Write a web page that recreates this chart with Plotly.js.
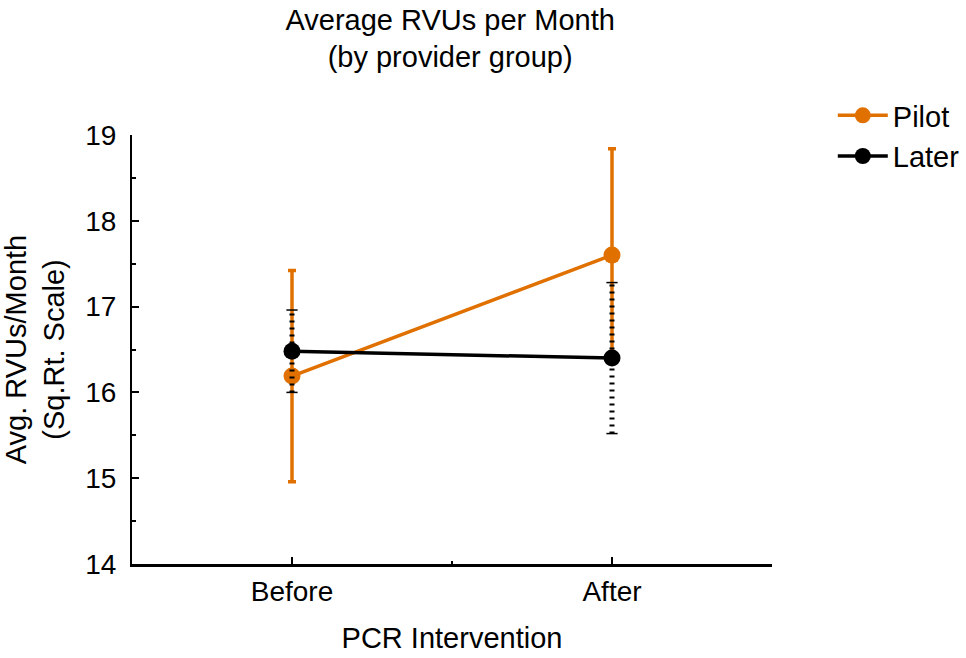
<!DOCTYPE html>
<html>
<head>
<meta charset="utf-8">
<script src="https://cdn.plot.ly/plotly-3.0.1.min.js"></script>
<style>html,body{margin:0;padding:0;background:#fff;}#chart{width:966px;height:658px;}</style>
</head>
<body>
<div id="chart"></div>
<script>
const categories = ["Before", "After"];
const catPos = [0, 1];
const pilotMean = [16.19, 17.60];
const pilotErr = [1.23, 1.24];
const laterMean = [16.48, 16.40];
const laterErr = [0.48, 0.88];
const yTicks = [14, 15, 16, 17, 18, 19];

const orange = "#E07000";
const traces = [];

traces.push({
  x: catPos, y: pilotMean, type: "scatter", mode: "lines+markers", name: "Pilot",
  line: {color: orange, width: 3.5}, marker: {color: orange, size: 17},
  error_y: {type: "data", array: pilotErr, visible: true, color: orange, thickness: 3.5, width: 4}
});
traces.push({
  x: catPos, y: laterMean, type: "scatter", mode: "lines+markers", name: "Later",
  line: {color: "#000", width: 3.5}, marker: {color: "#000", size: 17}
});
for (let i = 0; i < catPos.length; i++) {
  traces.push({
    x: [catPos[i], catPos[i]], y: [laterMean[i] - laterErr[i], laterMean[i] + laterErr[i]],
    type: "scatter", mode: "lines", showlegend: false, hoverinfo: "skip",
    line: {color: "#000", width: 5, dash: "2px,5px"}
  });
  traces.push({
    x: [catPos[i], catPos[i]], y: [laterMean[i] - laterErr[i], laterMean[i] + laterErr[i]],
    type: "scatter", mode: "markers", showlegend: false, hoverinfo: "skip",
    marker: {symbol: "line-ew", size: 8, line: {color: "#000", width: 1.5}}
  });
}

const font = {family: "Liberation Sans, Arial, sans-serif", color: "#000"};
const layout = {
  width: 966, height: 658,
  margin: {l: 132, r: 194, t: 135, b: 94, autoexpand: false},
  paper_bgcolor: "#fff", plot_bgcolor: "#fff",
  font: Object.assign({size: 28}, font),
  title: {text: "Average RVUs per Month<br>(by provider group)", x: 0.466, xanchor: "center",
          yref: "container", y: 0.955, yanchor: "top",
          font: Object.assign({size: 29}, font)},
  xaxis: {
    range: [-0.5, 1.5], tickmode: "array", tickvals: catPos, ticktext: categories,
    ticks: "inside", ticklen: 7, tickwidth: 2, tickcolor: "#000",
    showline: true, linecolor: "#000", linewidth: 3, showgrid: false, zeroline: false,
    tickfont: Object.assign({size: 28}, font), ticklabelstandoff: 0,
    minor: {tickvals: [0.5], ticks: "inside", ticklen: 3, tickwidth: 2, tickcolor: "#000", showgrid: false},
    title: {text: "PCR Intervention", font: Object.assign({size: 29}, font), standoff: 23}
  },
  yaxis: {
    range: [14, 19], tickmode: "array", tickvals: yTicks,
    ticks: "inside", ticklen: 7, tickwidth: 2, tickcolor: "#000",
    showline: true, linecolor: "#000", linewidth: 2, showgrid: false, zeroline: false,
    tickfont: Object.assign({size: 28}, font), ticklabelstandoff: 8,
    minor: {dtick: 0.5, ticks: "inside", ticklen: 4, tickwidth: 2, tickcolor: "#000", showgrid: false},
    title: {text: "Avg. RVUs/Month<br>(Sq.Rt. Scale)", font: Object.assign({size: 29}, font), standoff: 15}
  },
  legend: {x: 1.095, xanchor: "left", y: 1.105, yanchor: "top", font: Object.assign({size: 29}, font),
           bgcolor: "rgba(0,0,0,0)", tracegroupgap: 0, itemwidth: 50},
  showlegend: true
};
Plotly.newPlot("chart", traces, layout, {displayModeBar: false, staticPlot: true});
</script>
</body>
</html>
